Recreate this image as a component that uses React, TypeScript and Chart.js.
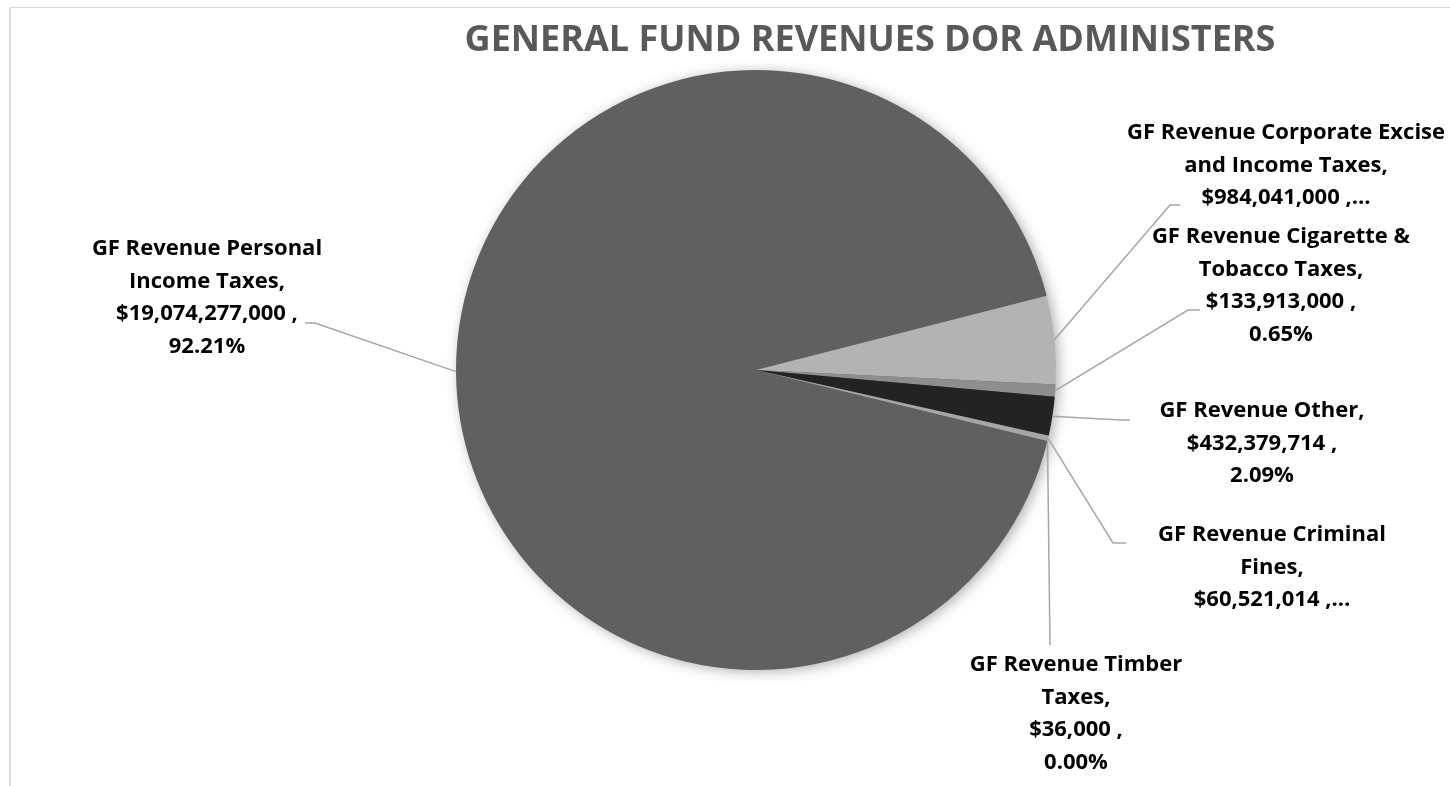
import React, { useEffect, useRef } from "react";
import { Chart, registerables } from "chart.js";
Chart.register(...registerables);

const categories = [
  "GF Revenue Personal Income Taxes",
  "GF Revenue Corporate Excise and Income Taxes",
  "GF Revenue Cigarette & Tobacco Taxes",
  "GF Revenue Other",
  "GF Revenue Criminal Fines",
  "GF Revenue Timber Taxes",
];
const values = [19074277000, 984041000, 133913000, 432379714, 60521014, 36000];
const sliceColors = ["#606060", "#b3b3b3", "#8e8e8e", "#232323", "#a6a6a6", "#d0d0d0"];
const labelNameLines = [
  ["GF Revenue Personal", "Income Taxes,"],
  ["GF Revenue Corporate Excise", "and Income Taxes,"],
  ["GF Revenue Cigarette &", "Tobacco Taxes,"],
  ["GF Revenue Other,"],
  ["GF Revenue Criminal", "Fines,"],
  ["GF Revenue Timber", "Taxes,"],
];
const truncated = [false, true, false, false, true, false];
const titleText = "GENERAL FUND REVENUES DOR ADMINISTERS";

// label placement relative to pie centre (layout only)
const labelLayout = [
  { dx: -549, dy: -121, elbow: [-441, -47], end: [-451, -47] },
  { dx: 530, dy: -237, elbow: [414, -165], end: [424, -165] },
  { dx: 525, dy: -133, elbow: [432, -60], end: [444, -60] },
  { dx: 506, dy: 41, elbow: [364, 50], end: [374, 50] },
  { dx: 516, dy: 165, elbow: [357, 173], end: [370, 173] },
  { dx: 320, dy: 295, elbow: [294, 275], end: [294, 275] },
];

const FONT = "'Open Sans', Lato, sans-serif";
const LABEL_SIZE = 22;
const LINE_H = 32.5;

function buildLines(i: number, total: number): string[] {
  const money = "$" + values[i].toLocaleString("en-US") + " ,";
  const pct = ((values[i] / total) * 100).toFixed(2) + "%";
  if (truncated[i]) return [...labelNameLines[i], money + "\u2026"];
  return [...labelNameLines[i], money, pct];
}

const decorPlugin = {
  id: "decor",
  beforeDraw(chart: any) {
    const ctx = chart.ctx;
    ctx.save();
    ctx.fillStyle = "#ffffff";
    ctx.fillRect(0, 0, chart.width, chart.height);
    ctx.fillStyle = "#d9d9d9";
    ctx.fillRect(9, 7, 2, chart.height - 7);
    ctx.fillRect(9, 7, chart.width - 9, 1);
    ctx.fillStyle = "#595959";
    ctx.font = `bold 36px ${FONT}`;
    ctx.textAlign = "center";
    ctx.textBaseline = "middle";
    ctx.fillText(titleText, 870, 41);
    ctx.restore();
  },
  beforeDatasetsDraw(chart: any) {
    const arc = chart.getDatasetMeta(0).data[0];
    if (!arc) return;
    const ctx = chart.ctx;
    ctx.save();
    ctx.shadowColor = "rgba(0,0,0,0.35)";
    ctx.shadowBlur = 14;
    ctx.shadowOffsetX = 3;
    ctx.shadowOffsetY = 2;
    ctx.fillStyle = "#606060";
    ctx.beginPath();
    ctx.arc(arc.x, arc.y, arc.outerRadius - 1, 0, Math.PI * 2);
    ctx.fill();
    ctx.restore();
  },
  afterDatasetsDraw(chart: any) {
    const ctx = chart.ctx;
    const meta = chart.getDatasetMeta(0);
    const total = values.reduce((a, b) => a + b, 0);
    meta.data.forEach((el: any, i: number) => {
      const lay = labelLayout[i];
      const cx = el.x;
      const cy = el.y;
      const mid = (el.startAngle + el.endAngle) / 2;
      const sx = cx + Math.cos(mid) * el.outerRadius;
      const sy = cy + Math.sin(mid) * el.outerRadius;
      ctx.save();
      ctx.strokeStyle = "#a6a6a6";
      ctx.lineWidth = 1.5;
      ctx.beginPath();
      ctx.moveTo(sx, sy);
      ctx.lineTo(cx + lay.elbow[0], cy + lay.elbow[1]);
      ctx.lineTo(cx + lay.end[0], cy + lay.end[1]);
      ctx.stroke();
      ctx.fillStyle = "#000000";
      ctx.font = `bold ${LABEL_SIZE}px ${FONT}`;
      ctx.textAlign = "center";
      ctx.textBaseline = "middle";
      const lines = buildLines(i, total);
      lines.forEach((ln, k) => {
        ctx.fillText(ln, cx + lay.dx, cy + lay.dy + k * LINE_H);
      });
      ctx.restore();
    });
  },
};

export default function App() {
  const ref = useRef<HTMLCanvasElement | null>(null);
  useEffect(() => {
    if (!ref.current) return;
    const chart = new Chart(ref.current, {
      type: "pie",
      data: {
        labels: categories,
        datasets: [
          {
            data: values,
            backgroundColor: sliceColors,
            borderWidth: 0,
            radius: 300,
          } as any,
        ],
      },
      options: {
        responsive: false,
        animation: false,
        rotation: 103.7,
        layout: { padding: { left: 362, right: 300, top: 40, bottom: 86 } },
        plugins: {
          legend: { display: false },
          tooltip: { enabled: false },
          title: { display: false },
        },
      } as any,
      plugins: [decorPlugin],
    });
    return () => chart.destroy();
  }, []);
  return (
    <div style={{ position: "fixed", left: 0, top: 0, width: 1450, height: 786, background: "#fff" }}>
      <canvas ref={ref} width={1450} height={786} style={{ display: "block" }} />
    </div>
  );
}
